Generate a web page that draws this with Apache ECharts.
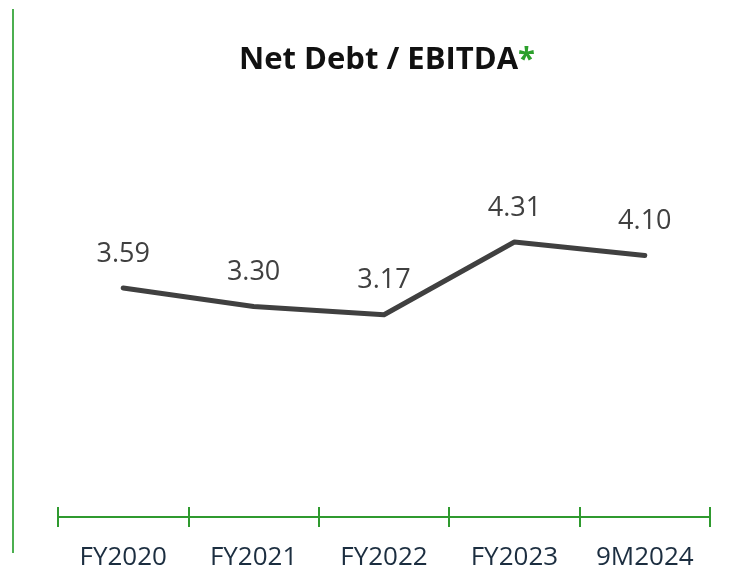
<!DOCTYPE html>
<html>
<head>
<meta charset="utf-8">
<script src="https://cdn.jsdelivr.net/npm/echarts@6/dist/echarts.min.js"></script>
<style>
  html, body { margin: 0; padding: 0; background: #ffffff; }
  #chart { width: 752px; height: 571px; }
</style>
</head>
<body>
<div id="chart"></div>
<script>
// Net Debt / EBITDA ratio by period
const periods = ['FY2020', 'FY2021', 'FY2022', 'FY2023', '9M2024'];
const ratios = [3.59, 3.30, 3.17, 4.31, 4.10];

const green = '#2f9a2f';
const chart = echarts.init(document.getElementById('chart'));

chart.setOption({
  backgroundColor: '#ffffff',
  animation: false,
  title: {
    text: 'Net Debt / EBITDA{a|*}',
    left: 382,
    textAlign: 'center',
    top: 40,
    textStyle: {
      fontFamily: 'Open Sans',
      fontSize: 31,
      fontWeight: 'bold',
      color: '#111111',
      rich: {
        a: { fontFamily: 'Open Sans', fontSize: 31, fontWeight: 'bold', color: '#2ca02c' }
      }
    }
  },
  grid: { left: 58, right: 42, top: 198, bottom: 54 },
  xAxis: [
    {
      type: 'category',
      data: periods,
      boundaryGap: true,
      axisLine: { lineStyle: { color: green, width: 2 } },
      axisTick: { show: true, interval: 0, length: 10, lineStyle: { color: green, width: 2 } },
      axisLabel: {
        interval: 0,
        hideOverlap: false,
        margin: 28,
        fontFamily: 'Open Sans',
        fontSize: 26,
        color: '#1c2e40'
      }
    },
    {
      type: 'category',
      data: periods,
      position: 'bottom',
      boundaryGap: true,
      axisLine: { show: false },
      axisTick: { show: true, interval: 0, inside: true, length: 10, lineStyle: { color: green, width: 2 } },
      axisLabel: { show: false }
    }
  ],
  yAxis: {
    type: 'value',
    min: 0,
    max: 5,
    show: false,
    splitLine: { show: false }
  },
  graphic: [
    {
      type: 'line',
      shape: { x1: 13, y1: 9, x2: 13, y2: 553 },
      style: { stroke: '#4caf50', lineWidth: 2 }
    }
  ],
  series: [
    {
      type: 'line',
      data: ratios,
      showSymbol: true,
      symbol: 'circle',
      symbolSize: 1,
      itemStyle: { color: 'rgba(0,0,0,0)' },
      lineStyle: { color: '#404040', width: 5, cap: 'round', join: 'round' },
      label: {
        show: true,
        position: 'top',
        distance: 20,
        fontFamily: 'Open Sans',
        fontSize: 27,
        color: '#404040',
        formatter: p => p.value.toFixed(2)
      }
    }
  ]
});
</script>
</body>
</html>
